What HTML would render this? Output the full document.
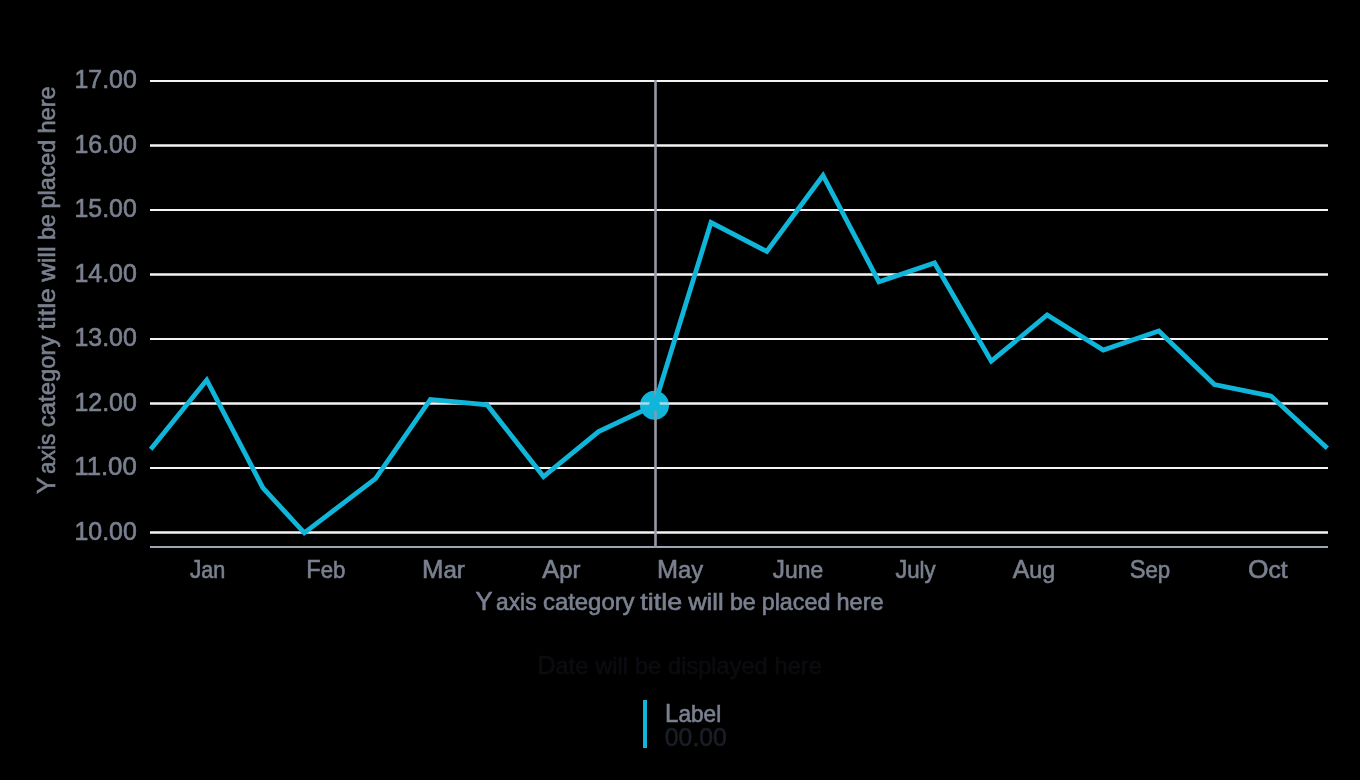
<!DOCTYPE html>
<html><head><meta charset="utf-8"><title>Line chart</title>
<style>
html,body{margin:0;padding:0;background:#000;}
body{width:1360px;height:780px;overflow:hidden;font-family:"Liberation Sans",sans-serif;}
svg{display:block;will-change:transform;transform:translateZ(0);}
text{font-family:"Liberation Sans",sans-serif;}
</style></head><body>
<svg width="1360" height="780" viewBox="0 0 1360 780">
<rect x="0" y="0" width="1360" height="780" fill="#000000"/>
<g stroke="#f4f4f8" stroke-width="2" fill="none">
<line x1="150" y1="81" x2="1328" y2="81" stroke-width="2"/>
<line x1="150" y1="145.5" x2="1328" y2="145.5" stroke-width="2.7"/>
<line x1="150" y1="210" x2="1328" y2="210" stroke-width="2"/>
<line x1="150" y1="274.5" x2="1328" y2="274.5" stroke-width="2.7"/>
<line x1="150" y1="339" x2="1328" y2="339" stroke-width="2"/>
<line x1="150" y1="403.5" x2="1328" y2="403.5" stroke-width="2.7"/>
<line x1="150" y1="468" x2="1328" y2="468" stroke-width="2"/>
<line x1="150" y1="532.5" x2="1328" y2="532.5" stroke-width="2.7"/>
</g>
<line x1="150" y1="547" x2="1328" y2="547" stroke="#9fa4b2" stroke-width="2"/>
<line x1="655.5" y1="80" x2="655.5" y2="548" stroke="#9599a7" stroke-width="2.6"/>
<circle cx="654.5" cy="405.25" r="14.5" fill="#10b5da"/>
<clipPath id="ring"><circle cx="654.5" cy="405.25" r="14.5"/></clipPath>
<g clip-path="url(#ring)">
<line x1="630" y1="403.5" x2="680" y2="403.5" stroke="#f4f4f8" stroke-width="2.7" stroke-opacity="0.66"/>
<line x1="655.5" y1="385" x2="655.5" y2="425" stroke="#9599a7" stroke-width="2.6" stroke-opacity="0.8"/>
</g>
<polyline points="150.7,449.2 206.7,380.0 262.9,487.8 304.3,532.85 375.5,478.6 430.4,399.4 487.2,404.9 543.5,476.5 598.6,431.6 654.5,405.25 711.0,222.5 766.8,251.4 823.0,175.5 878.9,281.85 934.55,263.0 991.27,361.2 1047.15,315.0 1103.27,350.05 1158.8,330.95 1214.4,384.5 1271.1,396.1 1327.3,448.2" fill="none" stroke="#10b5da" stroke-width="4.8" stroke-linejoin="miter" stroke-linecap="butt"/>
<circle cx="654.5" cy="405.25" r="5.5" fill="#10b5da"/>
<g font-size="25.2" stroke-width="0.6">
<text x="74.49" y="88.20" textLength="62.28" lengthAdjust="spacingAndGlyphs" fill="#7a808f" stroke="#7a808f">17.00</text>
<text x="74.49" y="152.70" textLength="62.28" lengthAdjust="spacingAndGlyphs" fill="#7a808f" stroke="#7a808f">16.00</text>
<text x="74.49" y="217.20" textLength="62.28" lengthAdjust="spacingAndGlyphs" fill="#7a808f" stroke="#7a808f">15.00</text>
<text x="74.49" y="281.70" textLength="62.28" lengthAdjust="spacingAndGlyphs" fill="#7a808f" stroke="#7a808f">14.00</text>
<text x="74.49" y="346.20" textLength="62.28" lengthAdjust="spacingAndGlyphs" fill="#7a808f" stroke="#7a808f">13.00</text>
<text x="74.49" y="410.70" textLength="62.28" lengthAdjust="spacingAndGlyphs" fill="#7a808f" stroke="#7a808f">12.00</text>
<text x="74.27" y="475.20" textLength="62.49" lengthAdjust="spacingAndGlyphs" fill="#7a808f" stroke="#7a808f">11.00</text>
<text x="74.49" y="539.70" textLength="62.28" lengthAdjust="spacingAndGlyphs" fill="#7a808f" stroke="#7a808f">10.00</text>
<text x="189.89" y="578.00" textLength="35.44" lengthAdjust="spacingAndGlyphs" fill="#7a808f" stroke="#7a808f">J<tspan font-size="23.7">an</tspan></text>
<text x="306.20" y="578.00" textLength="39.16" lengthAdjust="spacingAndGlyphs" fill="#7a808f" stroke="#7a808f">F<tspan font-size="23.7">eb</tspan></text>
<text x="422.05" y="578.00" textLength="42.86" lengthAdjust="spacingAndGlyphs" fill="#7a808f" stroke="#7a808f">M<tspan font-size="23.7">ar</tspan></text>
<text x="542.30" y="578.00" textLength="38.09" lengthAdjust="spacingAndGlyphs" fill="#7a808f" stroke="#7a808f">A<tspan font-size="23.7">pr</tspan></text>
<text x="656.89" y="578.00" textLength="46.14" lengthAdjust="spacingAndGlyphs" fill="#7a808f" stroke="#7a808f">M<tspan font-size="23.7">ay</tspan></text>
<text x="772.84" y="578.00" textLength="50.34" lengthAdjust="spacingAndGlyphs" fill="#7a808f" stroke="#7a808f">J<tspan font-size="23.7">une</tspan></text>
<text x="895.39" y="578.00" textLength="40.30" lengthAdjust="spacingAndGlyphs" fill="#7a808f" stroke="#7a808f">J<tspan font-size="23.7">uly</tspan></text>
<text x="1012.75" y="578.00" textLength="42.58" lengthAdjust="spacingAndGlyphs" fill="#7a808f" stroke="#7a808f">A<tspan font-size="23.7">ug</tspan></text>
<text x="1129.67" y="578.00" textLength="40.51" lengthAdjust="spacingAndGlyphs" fill="#7a808f" stroke="#7a808f">S<tspan font-size="23.7">ep</tspan></text>
<text x="1247.98" y="578.00" textLength="39.78" lengthAdjust="spacingAndGlyphs" fill="#7a808f" stroke="#7a808f">O<tspan font-size="23.7">ct</tspan></text>
<text x="475.54" y="610.10" textLength="17.07" lengthAdjust="spacingAndGlyphs" fill="#7a808f" stroke="#7a808f">Y</text>
<text x="496.11" y="610.10" textLength="40.40" lengthAdjust="spacingAndGlyphs" fill="#7a808f" stroke="#7a808f"><tspan font-size="23.7">axis</tspan></text>
<text x="543.01" y="610.10" textLength="91.54" lengthAdjust="spacingAndGlyphs" fill="#7a808f" stroke="#7a808f"><tspan font-size="23.7">category</tspan></text>
<text x="640.37" y="610.10" textLength="41.73" lengthAdjust="spacingAndGlyphs" fill="#7a808f" stroke="#7a808f"><tspan font-size="23.7">title</tspan></text>
<text x="688.18" y="610.10" textLength="35.48" lengthAdjust="spacingAndGlyphs" fill="#7a808f" stroke="#7a808f"><tspan font-size="23.7">will</tspan></text>
<text x="729.90" y="610.10" textLength="25.83" lengthAdjust="spacingAndGlyphs" fill="#7a808f" stroke="#7a808f"><tspan font-size="23.7">be</tspan></text>
<text x="761.70" y="610.10" textLength="68.76" lengthAdjust="spacingAndGlyphs" fill="#7a808f" stroke="#7a808f"><tspan font-size="23.7">placed</tspan></text>
<text x="836.52" y="610.10" textLength="47.14" lengthAdjust="spacingAndGlyphs" fill="#7a808f" stroke="#7a808f"><tspan font-size="23.7">here</tspan></text>
<text transform="translate(54.80,494.07) rotate(-90)" x="0" y="0" textLength="16.89" lengthAdjust="spacingAndGlyphs" fill="#7a808f" stroke="#7a808f">Y</text>
<text transform="translate(54.80,473.95) rotate(-90)" x="0" y="0" textLength="40.24" lengthAdjust="spacingAndGlyphs" fill="#7a808f" stroke="#7a808f"><tspan font-size="23.7">axis</tspan></text>
<text transform="translate(54.80,427.21) rotate(-90)" x="0" y="0" textLength="91.71" lengthAdjust="spacingAndGlyphs" fill="#7a808f" stroke="#7a808f"><tspan font-size="23.7">category</tspan></text>
<text transform="translate(54.80,329.65) rotate(-90)" x="0" y="0" textLength="41.62" lengthAdjust="spacingAndGlyphs" fill="#7a808f" stroke="#7a808f"><tspan font-size="23.7">title</tspan></text>
<text transform="translate(54.80,281.84) rotate(-90)" x="0" y="0" textLength="35.60" lengthAdjust="spacingAndGlyphs" fill="#7a808f" stroke="#7a808f"><tspan font-size="23.7">will</tspan></text>
<text transform="translate(54.80,240.11) rotate(-90)" x="0" y="0" textLength="25.96" lengthAdjust="spacingAndGlyphs" fill="#7a808f" stroke="#7a808f"><tspan font-size="23.7">be</tspan></text>
<text transform="translate(54.80,208.41) rotate(-90)" x="0" y="0" textLength="68.69" lengthAdjust="spacingAndGlyphs" fill="#7a808f" stroke="#7a808f"><tspan font-size="23.7">placed</tspan></text>
<text transform="translate(54.80,133.50) rotate(-90)" x="0" y="0" textLength="47.19" lengthAdjust="spacingAndGlyphs" fill="#7a808f" stroke="#7a808f"><tspan font-size="23.7">here</tspan></text>
<text x="537.40" y="674.10" textLength="284.36" lengthAdjust="spacingAndGlyphs" fill="#0b0c10" stroke="#0b0c10">D<tspan font-size="23.7">ate</tspan> <tspan font-size="23.7">will</tspan> <tspan font-size="23.7">be</tspan> <tspan font-size="23.7">displayed</tspan> <tspan font-size="23.7">here</tspan></text>
<text x="665.04" y="721.90" textLength="56.15" lengthAdjust="spacingAndGlyphs" fill="#7a808f" stroke="#7a808f">L<tspan font-size="23.7">abel</tspan></text>
<text x="664.85" y="746.30" textLength="61.94" lengthAdjust="spacingAndGlyphs" fill="#1b1e26" stroke="#1b1e26">00.00</text>
</g>
<rect x="643" y="700" width="4" height="48" fill="#10b5da"/>
</svg>
</body></html>
